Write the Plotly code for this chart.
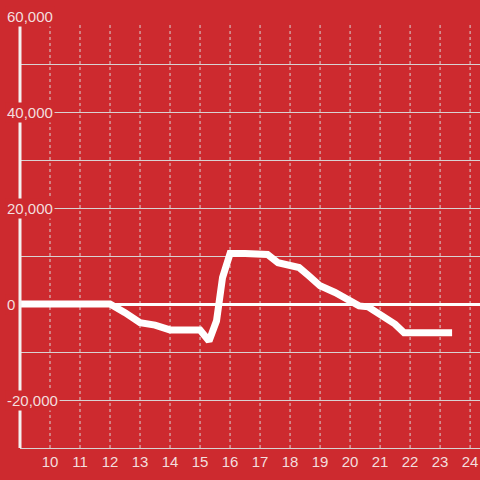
import plotly.graph_objects as go

# hour of day vs. value
hours = [9, 12, 12.5, 13, 13.5, 14, 14.5, 15, 15.3, 15.55, 15.75, 16, 16.5, 17, 17.25,
         17.6, 18, 18.3, 18.6, 19, 19.5, 20, 20.3, 20.6, 21, 21.5, 21.8, 22.5, 23.4]
values = [0, 0, -1800, -3900, -4400, -5400, -5400, -5400, -7700, -3500, 5500, 10500, 10500,
          10400, 10300, 8600, 7900, 7600, 6000, 3800, 2400, 400, -400, -600, -2300, -4200,
          -6000, -6000, -6000]

y_label_vals = [60000, 40000, 20000, 0, -20000]
x_tick_vals = list(range(10, 25))

bg = "#cd2a2f"
label_color = "#f3dede"
grid_color = "#d9d2d2"
y_min, y_max = -30000, 60000
grid_top = 58300  # vertical grid / axis line stop a bit below the top gridline

fig = go.Figure()

# dotted vertical gridlines
for t in x_tick_vals:
    fig.add_shape(type="line", x0=t, x1=t, y0=y_min, y1=grid_top, xref="x", yref="y",
                  line=dict(color=grid_color, width=1, dash="dot"), layer="below")
# y axis line (paper x so it is not clipped at the plot edge)
fig.add_shape(type="line", x0=0, x1=0, y0=y_min, y1=grid_top, xref="paper", yref="y",
              line=dict(color="#f4f0f0", width=3), layer="above")

fig.add_trace(go.Scatter(x=hours, y=values, mode="lines",
                         line=dict(color="white", width=7), hoverinfo="skip"))

# y labels drawn on top of the axis/grid with a red background
for v in y_label_vals:
    fig.add_annotation(x=-0.032, xref="paper", y=v, yref="y", text=f"{v:,}",
                       showarrow=False, xanchor="left", yanchor="middle",
                       bgcolor=bg, borderpad=1,
                       font=dict(size=15, color=label_color, family="Liberation Sans"))

fig.update_layout(
    width=480, height=480,
    paper_bgcolor=bg, plot_bgcolor=bg,
    margin=dict(l=20, r=0, t=16, b=32, autoexpand=False),
    showlegend=False,
    font=dict(family="Liberation Sans", size=15, color=label_color),
    xaxis=dict(range=[9, 24.33], tickvals=x_tick_vals, showgrid=False,
               zeroline=False, showline=True, linecolor=grid_color, linewidth=1,
               ticks="", automargin=False, tickfont=dict(size=15, color=label_color)),
    yaxis=dict(range=[y_min, y_max], dtick=10000, showticklabels=False,
               showgrid=True, gridcolor=grid_color, gridwidth=1,
               zeroline=True, zerolinecolor="white", zerolinewidth=3,
               showline=False, ticks="", automargin=False),
)

fig.write_html("out.html", config={"displayModeBar": False},
               post_script="document.body.style.margin='0';")
